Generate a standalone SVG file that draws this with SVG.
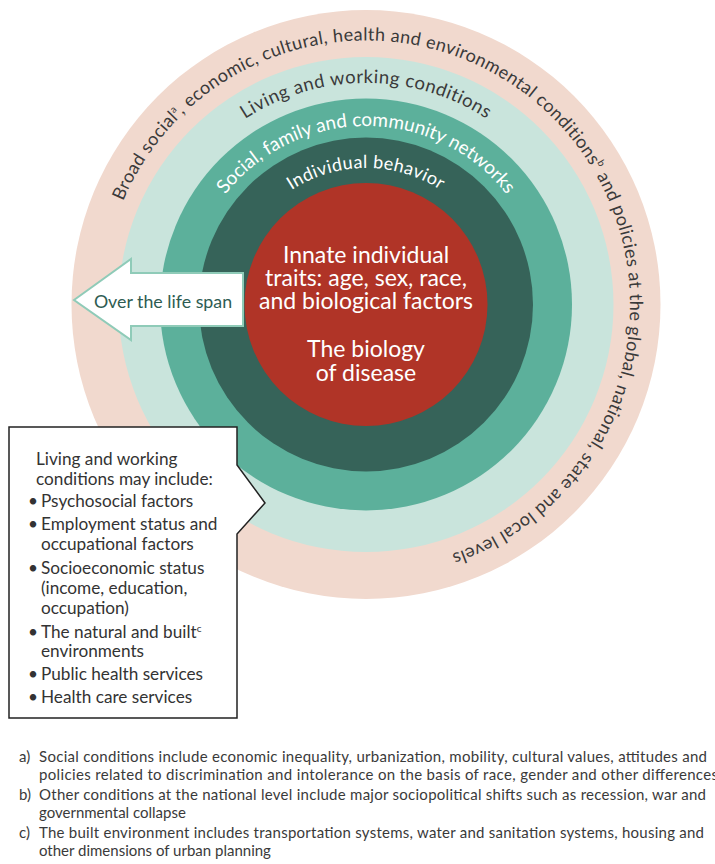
<svg xmlns="http://www.w3.org/2000/svg" xmlns:xlink="http://www.w3.org/1999/xlink" width="715" height="864" viewBox="0 0 715 864">
<style>
  .arcdark { font-family: Lato, "Liberation Sans", sans-serif; fill: #3a3a3a; }
  .arcwhite { font-family: Lato, "Liberation Sans", sans-serif; fill: #ffffff; }
  .core { font-family: Lato, "Liberation Sans", sans-serif; fill: #ffffff; font-size: 23px; text-anchor: middle; }
  .box { font-family: Lato, "Liberation Sans", sans-serif; fill: #333333; font-size: 17.2px; }
  .note { font-family: Lato, "Liberation Sans", sans-serif; fill: #3a3a3a; font-size: 15px; }
</style>
<defs>
  <path id="p-broad" d="M 123,201.3 A 264 264 0 1 1 609,407.7 A 264 264 0 1 1 123,201.3"/>
  <path id="p-living" d="M 366,526 A 221.5 221.5 0 1 1 366,83 A 221.5 221.5 0 1 1 366,526"/>
  <path id="p-social" d="M 366,483 A 178.5 178.5 0 1 1 366,126 A 178.5 178.5 0 1 1 366,483"/>
  <path id="p-behavior" d="M 366,441 A 136.5 136.5 0 1 1 366,168 A 136.5 136.5 0 1 1 366,441"/>
</defs>
<rect width="715" height="864" fill="#ffffff"/>

<g id="ring-broad">
  <circle cx="366" cy="304.5" r="294.5" fill="#f1d9ce"/>
</g>
<g id="ring-living">
  <circle cx="366" cy="304.5" r="247.5" fill="#c9e4dc"/>
</g>
<g id="ring-social">
  <circle cx="366" cy="304.5" r="206" fill="#5cb09b"/>
</g>
<g id="ring-behavior">
  <circle cx="366" cy="304.5" r="167" fill="#366359"/>
</g>
<g id="core">
  <circle cx="366" cy="304.5" r="121.5" fill="#b03427"/>
  <text class="core" x="366" y="263">Innate individual</text>
  <text class="core" x="366" y="286">traits: age, sex, race,</text>
  <text class="core" x="366" y="309">and biological factors</text>
  <text class="core" x="366" y="357">The biology</text>
  <text class="core" x="366" y="381">of disease</text>
</g>

<g id="ring-labels">
  <text class="arcdark" font-size="18" letter-spacing="0.4"><textPath xlink:href="#p-broad" href="#p-broad">Broad social<tspan font-size="10" dy="-7">a</tspan><tspan dy="7">, economic, cultural, health and environmental conditions</tspan><tspan font-size="10" dy="-7">b</tspan><tspan dy="7"> and policies at the global, national, state and local levels</tspan></textPath></text>
  <text class="arcdark" font-size="18.5" letter-spacing="0.5" text-anchor="middle"><textPath xlink:href="#p-living" href="#p-living" startOffset="50%">Living and working conditions</textPath></text>
  <text class="arcwhite" font-size="19" text-anchor="middle"><textPath xlink:href="#p-social" href="#p-social" startOffset="50%">Social, family and community networks</textPath></text>
  <text class="arcwhite" font-size="18" letter-spacing="0.4" text-anchor="middle"><textPath xlink:href="#p-behavior" href="#p-behavior" startOffset="50%">Individual behavior</textPath></text>
</g>

<g id="connectors">
  <g id="lifespan-arrow">
    <polygon points="74,300 131,259 131,273 243,273 243,326 131,326 131,340" fill="#ffffff" stroke="#8fcbb8" stroke-width="2" stroke-linejoin="miter"/>
    <text x="163" y="308" text-anchor="middle" font-family="Lato, 'Liberation Sans', sans-serif" font-size="17.8" fill="#2e5c52">Over the life span</text>
  </g>
</g>

<g id="callout">
  <path d="M 9,427 H 237 V 465 L 265,503 L 237,534 V 718 H 9 Z" fill="#ffffff" stroke="#222222" stroke-width="1.5"/>
  <text class="box" x="36" y="465">Living and working</text>
  <text class="box" x="36" y="485">conditions may include:</text>
  <text class="box" x="28" y="507">•</text><text class="box" x="41" y="507">Psychosocial factors</text>
  <text class="box" x="28" y="530">•</text><text class="box" x="41" y="530">Employment status and</text>
  <text class="box" x="41" y="550">occupational factors</text>
  <text class="box" x="28" y="574">•</text><text class="box" x="41" y="574">Socioeconomic status</text>
  <text class="box" x="41" y="594">(income, education,</text>
  <text class="box" x="41" y="614">occupation)</text>
  <text class="box" x="28" y="638">•</text><text class="box" x="41" y="638">The natural and built<tspan font-size="10" dy="-6">c</tspan></text>
  <text class="box" x="41" y="657">environments</text>
  <text class="box" x="28" y="680">•</text><text class="box" x="41" y="680">Public health services</text>
  <text class="box" x="28" y="703">•</text><text class="box" x="41" y="703">Health care services</text>
</g>

<g id="footnotes">
  <text class="note" x="19" y="762">a)</text>
  <text class="note" x="39" y="762" textLength="668" lengthAdjust="spacing">Social conditions include economic inequality, urbanization, mobility, cultural values, attitudes and</text>
  <text class="note" x="39" y="780" textLength="679" lengthAdjust="spacing">policies related to discrimination and intolerance on the basis of race, gender and other differences</text>
  <text class="note" x="19" y="800">b)</text>
  <text class="note" x="39" y="800" textLength="667" lengthAdjust="spacing">Other conditions at the national level include major sociopolitical shifts such as recession, war and</text>
  <text class="note" x="39" y="818">governmental collapse</text>
  <text class="note" x="19" y="838">c)</text>
  <text class="note" x="39" y="838" textLength="665" lengthAdjust="spacing">The built environment includes transportation systems, water and sanitation systems, housing and</text>
  <text class="note" x="39" y="856">other dimensions of urban planning</text>
</g>
</svg>
